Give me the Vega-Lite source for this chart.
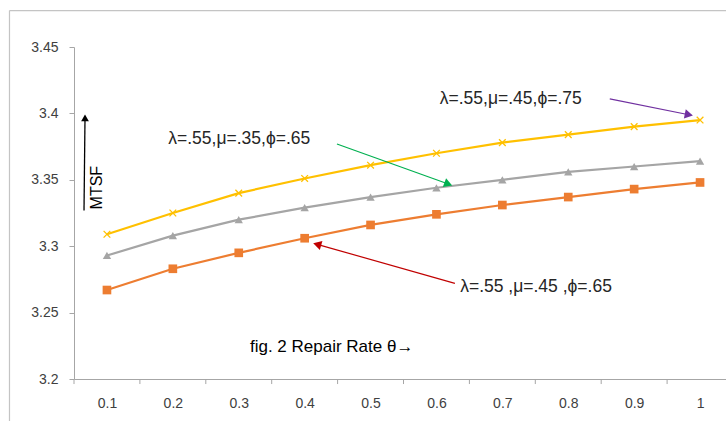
{
  "$schema": "https://vega.github.io/schema/vega-lite/v6.json",
  "autosize": {"type": "none"},
  "padding": {"left": 74, "top": 47, "right": 0, "bottom": 42},
  "width": 659,
  "height": 332,
  "background": "white",
  "config": {"view": {"stroke": null}, "font": "Liberation Sans"},
  "datasets": {
    "series": [
      {"theta": 0.1, "curve": "λ=.55,μ=.45,ϕ=.75", "MTSF": 3.309},
      {"theta": 0.2, "curve": "λ=.55,μ=.45,ϕ=.75", "MTSF": 3.325},
      {"theta": 0.3, "curve": "λ=.55,μ=.45,ϕ=.75", "MTSF": 3.340},
      {"theta": 0.4, "curve": "λ=.55,μ=.45,ϕ=.75", "MTSF": 3.351},
      {"theta": 0.5, "curve": "λ=.55,μ=.45,ϕ=.75", "MTSF": 3.361},
      {"theta": 0.6, "curve": "λ=.55,μ=.45,ϕ=.75", "MTSF": 3.370},
      {"theta": 0.7, "curve": "λ=.55,μ=.45,ϕ=.75", "MTSF": 3.378},
      {"theta": 0.8, "curve": "λ=.55,μ=.45,ϕ=.75", "MTSF": 3.384},
      {"theta": 0.9, "curve": "λ=.55,μ=.45,ϕ=.75", "MTSF": 3.390},
      {"theta": 1.0, "curve": "λ=.55,μ=.45,ϕ=.75", "MTSF": 3.395},
      {"theta": 0.1, "curve": "λ=.55,μ=.35,ϕ=.65", "MTSF": 3.293},
      {"theta": 0.2, "curve": "λ=.55,μ=.35,ϕ=.65", "MTSF": 3.308},
      {"theta": 0.3, "curve": "λ=.55,μ=.35,ϕ=.65", "MTSF": 3.320},
      {"theta": 0.4, "curve": "λ=.55,μ=.35,ϕ=.65", "MTSF": 3.329},
      {"theta": 0.5, "curve": "λ=.55,μ=.35,ϕ=.65", "MTSF": 3.337},
      {"theta": 0.6, "curve": "λ=.55,μ=.35,ϕ=.65", "MTSF": 3.344},
      {"theta": 0.7, "curve": "λ=.55,μ=.35,ϕ=.65", "MTSF": 3.350},
      {"theta": 0.8, "curve": "λ=.55,μ=.35,ϕ=.65", "MTSF": 3.356},
      {"theta": 0.9, "curve": "λ=.55,μ=.35,ϕ=.65", "MTSF": 3.360},
      {"theta": 1.0, "curve": "λ=.55,μ=.35,ϕ=.65", "MTSF": 3.364},
      {"theta": 0.1, "curve": "λ=.55,μ=.45,ϕ=.65", "MTSF": 3.267},
      {"theta": 0.2, "curve": "λ=.55,μ=.45,ϕ=.65", "MTSF": 3.283},
      {"theta": 0.3, "curve": "λ=.55,μ=.45,ϕ=.65", "MTSF": 3.295},
      {"theta": 0.4, "curve": "λ=.55,μ=.45,ϕ=.65", "MTSF": 3.306},
      {"theta": 0.5, "curve": "λ=.55,μ=.45,ϕ=.65", "MTSF": 3.316},
      {"theta": 0.6, "curve": "λ=.55,μ=.45,ϕ=.65", "MTSF": 3.324},
      {"theta": 0.7, "curve": "λ=.55,μ=.45,ϕ=.65", "MTSF": 3.331},
      {"theta": 0.8, "curve": "λ=.55,μ=.45,ϕ=.65", "MTSF": 3.337},
      {"theta": 0.9, "curve": "λ=.55,μ=.45,ϕ=.65", "MTSF": 3.343},
      {"theta": 1.0, "curve": "λ=.55,μ=.45,ϕ=.65", "MTSF": 3.348}
    ],
    "labels": [
      {"id": "t1", "x": 0.605, "y": 3.4112, "text": "λ=.55,μ=.45,ϕ=.75"},
      {"id": "t2", "x": 0.193, "y": 3.3809, "text": "λ=.55,μ=.35,ϕ=.65"},
      {"id": "t3", "x": 0.636, "y": 3.2691, "text": "λ=.55 ,μ=.45 ,ϕ=.65"}
    ],
    "caption": [
      {"x": 0.317, "y": 3.224, "text": "fig. 2  Repair Rate  θ→"}
    ],
    "ylabel": [
      {"x": 0.0849, "y": 3.3441, "text": "MTSF"}
    ],
    "arrows": [
      {"id": "purple", "x": 0.863, "y": 3.411, "x2": 0.983, "y2": 3.399},
      {"id": "green", "x": 0.449, "y": 3.377, "x2": 0.618, "y2": 3.3468},
      {"id": "red", "x": 0.628, "y": 3.272, "x2": 0.419, "y2": 3.3014},
      {"id": "black", "x": 0.0652, "y": 3.3269, "x2": 0.0667, "y2": 3.3967}
    ],
    "border": [
      {"x": -0.0479, "y": 3.4774, "x2": 1.3, "y2": 3.4774},
      {"x": -0.0479, "y": 3.4774, "x2": -0.0479, "y2": 3.1}
    ],
    "bounds": [
      {"x": 0.05}, {"x": 0.15}, {"x": 0.25}, {"x": 0.35}, {"x": 0.45}, {"x": 0.55},
      {"x": 0.65}, {"x": 0.75}, {"x": 0.85}, {"x": 0.95}, {"x": 1.05}
    ]
  },
  "layer": [
    {
      "data": {"name": "border"},
      "mark": {"type": "rule", "color": "#c4c4c4", "strokeWidth": 1.2},
      "encoding": {
        "x": {"field": "x", "type": "quantitative", "scale": {"domain": [0.05, 1.05], "nice": false, "zero": false},
          "axis": {
            "values": [0.1, 0.2, 0.3, 0.4, 0.5, 0.6, 0.7, 0.8, 0.9, 1.0],
            "title": null, "grid": false, "domainColor": "#a6a6a6", "ticks": false,
            "format": "~g",
            "labelFont": "Liberation Sans", "labelFontSize": 14, "labelColor": "#404040", "labelPadding": 17,
            "labelFlush": false, "labelOverlap": false
          }},
        "y": {"field": "y", "type": "quantitative", "scale": {"domain": [3.2, 3.45], "nice": false, "zero": false},
          "axis": {
            "values": [3.2, 3.25, 3.3, 3.35, 3.4, 3.45],
            "title": null, "grid": false, "domainColor": "#a6a6a6", "tickColor": "#a6a6a6", "tickSize": 5,
            "format": "~g", "labelFont": "Liberation Sans", "labelFontSize": 14, "labelColor": "#404040", "labelPadding": 11
          }},
        "x2": {"field": "x2"},
        "y2": {"field": "y2"}
      }
    },
    {
      "data": {"name": "bounds"},
      "mark": {"type": "rule", "color": "#a6a6a6", "strokeWidth": 1},
      "encoding": {
        "x": {"field": "x", "type": "quantitative"},
        "y": {"datum": 3.2, "type": "quantitative"},
        "y2": {"datum": 3.1962}
      }
    },
    {
      "data": {"name": "series"},
      "mark": {"type": "line", "strokeWidth": 2.2},
      "encoding": {
        "x": {"field": "theta", "type": "quantitative"},
        "y": {"field": "MTSF", "type": "quantitative"},
        "color": {"field": "curve", "type": "nominal", "legend": null,
          "scale": {"domain": ["λ=.55,μ=.45,ϕ=.75", "λ=.55,μ=.35,ϕ=.65", "λ=.55,μ=.45,ϕ=.65"], "range": ["#FFC000", "#A5A5A5", "#ED7D31"]}}
      }
    },
    {
      "data": {"name": "series"},
      "transform": [{"filter": "datum.curve == 'λ=.55,μ=.45,ϕ=.75'"}],
      "mark": {"type": "point", "shape": "M-1,-1L1,1M1,-1L-1,1", "filled": false, "size": 45, "stroke": "#FFC000", "strokeWidth": 1.3, "opacity": 1},
      "encoding": {
        "x": {"field": "theta", "type": "quantitative"},
        "y": {"field": "MTSF", "type": "quantitative"}
      }
    },
    {
      "data": {"name": "series"},
      "transform": [{"filter": "datum.curve == 'λ=.55,μ=.35,ϕ=.65'"}],
      "mark": {"type": "point", "shape": "triangle-up", "filled": true, "size": 70, "color": "#A5A5A5", "opacity": 1},
      "encoding": {
        "x": {"field": "theta", "type": "quantitative"},
        "y": {"field": "MTSF", "type": "quantitative"}
      }
    },
    {
      "data": {"name": "series"},
      "transform": [{"filter": "datum.curve == 'λ=.55,μ=.45,ϕ=.65'"}],
      "mark": {"type": "point", "shape": "square", "filled": true, "size": 75, "color": "#ED7D31", "opacity": 1},
      "encoding": {
        "x": {"field": "theta", "type": "quantitative"},
        "y": {"field": "MTSF", "type": "quantitative"}
      }
    },
    {
      "data": {"name": "arrows"},
      "transform": [{"filter": "datum.id == 'purple'"}],
      "layer": [
        {"mark": {"type": "rule", "color": "#7030A0", "strokeWidth": 1.2},
         "encoding": {"x": {"field": "x", "type": "quantitative"}, "y": {"field": "y", "type": "quantitative"}, "x2": {"field": "x2"}, "y2": {"field": "y2"}}},
        {"mark": {"type": "point", "shape": "triangle-up", "filled": true, "size": 90, "color": "#7030A0", "opacity": 1, "angle": 101.6},
         "encoding": {"x": {"field": "x2", "type": "quantitative"}, "y": {"field": "y2", "type": "quantitative"}}}
      ]
    },
    {
      "data": {"name": "arrows"},
      "transform": [{"filter": "datum.id == 'green'"}],
      "layer": [
        {"mark": {"type": "rule", "color": "#00B050", "strokeWidth": 1.2},
         "encoding": {"x": {"field": "x", "type": "quantitative"}, "y": {"field": "y", "type": "quantitative"}, "x2": {"field": "x2"}, "y2": {"field": "y2"}}},
        {"mark": {"type": "point", "shape": "triangle-up", "filled": true, "size": 90, "color": "#00B050", "opacity": 1, "angle": 110},
         "encoding": {"x": {"field": "x2", "type": "quantitative"}, "y": {"field": "y2", "type": "quantitative"}}}
      ]
    },
    {
      "data": {"name": "arrows"},
      "transform": [{"filter": "datum.id == 'red'"}],
      "layer": [
        {"mark": {"type": "rule", "color": "#C00000", "strokeWidth": 1.2},
         "encoding": {"x": {"field": "x", "type": "quantitative"}, "y": {"field": "y", "type": "quantitative"}, "x2": {"field": "x2"}, "y2": {"field": "y2"}}},
        {"mark": {"type": "point", "shape": "triangle-up", "filled": true, "size": 90, "color": "#C00000", "opacity": 1, "angle": 285.7},
         "encoding": {"x": {"field": "x2", "type": "quantitative"}, "y": {"field": "y2", "type": "quantitative"}}}
      ]
    },
    {
      "data": {"name": "arrows"},
      "transform": [{"filter": "datum.id == 'black'"}],
      "layer": [
        {"mark": {"type": "rule", "color": "#000000", "strokeWidth": 1.3},
         "encoding": {"x": {"field": "x", "type": "quantitative"}, "y": {"field": "y", "type": "quantitative"}, "x2": {"field": "x2"}, "y2": {"field": "y2"}}},
        {"mark": {"type": "point", "shape": "triangle-up", "filled": true, "size": 60, "color": "#000000", "opacity": 1, "angle": 0},
         "encoding": {"x": {"field": "x2", "type": "quantitative"}, "y": {"field": "y2", "type": "quantitative"}}}
      ]
    },
    {
      "data": {"name": "labels"},
      "mark": {"type": "text", "align": "left", "baseline": "middle", "font": "Liberation Sans", "fontSize": 17.5, "color": "#262626"},
      "encoding": {
        "x": {"field": "x", "type": "quantitative"},
        "y": {"field": "y", "type": "quantitative"},
        "text": {"field": "text"}
      }
    },
    {
      "data": {"name": "caption"},
      "mark": {"type": "text", "align": "left", "baseline": "middle", "font": "Liberation Sans", "fontSize": 17, "color": "#000000"},
      "encoding": {
        "x": {"field": "x", "type": "quantitative"},
        "y": {"field": "y", "type": "quantitative"},
        "text": {"field": "text"}
      }
    },
    {
      "data": {"name": "ylabel"},
      "mark": {"type": "text", "align": "center", "baseline": "middle", "angle": 270, "font": "Liberation Sans", "fontSize": 16, "color": "#000000"},
      "encoding": {
        "x": {"field": "x", "type": "quantitative"},
        "y": {"field": "y", "type": "quantitative"},
        "text": {"field": "text"}
      }
    }
  ]
}
